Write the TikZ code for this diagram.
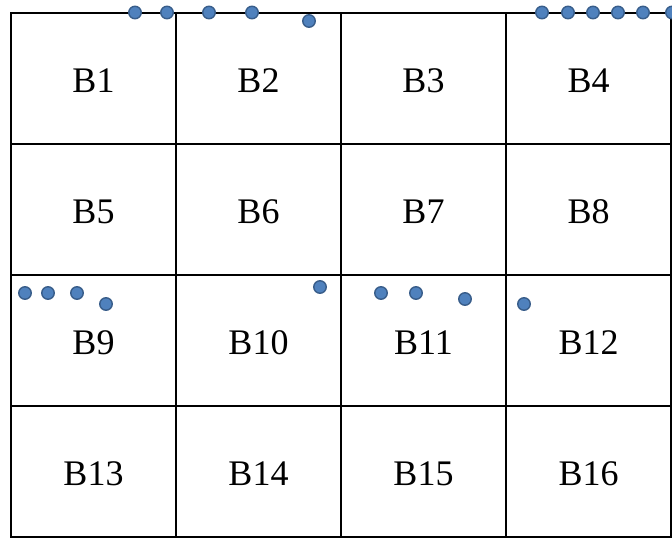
\documentclass[tikz,border=0pt]{standalone}
\usepackage{fontspec}
\setmainfont{Liberation Serif}
\definecolor{dotfill}{RGB}{79,129,189}
\definecolor{dotline}{RGB}{56,93,138}
\begin{document}
\begin{tikzpicture}[x=1pt, y=-1pt,
  every node/.style={font=\fontsize{36}{40}\selectfont},
  cell/.style={rectangle, draw, line width=2.3pt, minimum width=165pt, minimum height=131pt, inner sep=0pt, text height=28pt, text depth=0pt},
  pt/.style={circle, draw=dotline, fill=dotfill, line width=1.4pt, minimum size=12.5pt, inner sep=0pt}]
\useasboundingbox (0,0) rectangle (672,538);
\node[cell] (b1) at (93.5,78.5) {B1};
\node[cell] (b2) at (258.5,78.5) {B2};
\node[cell] (b3) at (423.5,78.5) {B3};
\node[cell] (b4) at (588.5,78.5) {B4};
\node[cell] (b5) at (93.5,209.5) {B5};
\node[cell] (b6) at (258.5,209.5) {B6};
\node[cell] (b7) at (423.5,209.5) {B7};
\node[cell] (b8) at (588.5,209.5) {B8};
\node[cell] (b9) at (93.5,340.5) {B9};
\node[cell] (b10) at (258.5,340.5) {B10};
\node[cell] (b11) at (423.5,340.5) {B11};
\node[cell] (b12) at (588.5,340.5) {B12};
\node[cell] (b13) at (93.5,471.5) {B13};
\node[cell] (b14) at (258.5,471.5) {B14};
\node[cell] (b15) at (423.5,471.5) {B15};
\node[cell] (b16) at (588.5,471.5) {B16};
% points on the top edge
\node[pt] (d1) at (135,12.5) {};
\node[pt] (d2) at (167,12.5) {};
\node[pt] (d3) at (209,12.5) {};
\node[pt] (d4) at (252,12.5) {};
\node[pt] (d5) at (309,21) {};
\node[pt] (d6) at (542,12.5) {};
\node[pt] (d7) at (568,12.5) {};
\node[pt] (d8) at (593,12.5) {};
\node[pt] (d9) at (618,12.5) {};
\node[pt] (d10) at (643,12.5) {};
\node[pt] (d11) at (672,12.5) {};
% points in the third row
\node[pt] (d12) at (25,293) {};
\node[pt] (d13) at (48,293) {};
\node[pt] (d14) at (77,293) {};
\node[pt] (d15) at (106,304) {};
\node[pt] (d16) at (320,287) {};
\node[pt] (d17) at (381,293) {};
\node[pt] (d18) at (416,293) {};
\node[pt] (d19) at (465,299) {};
\node[pt] (d20) at (524,304) {};
\end{tikzpicture}
\end{document}
